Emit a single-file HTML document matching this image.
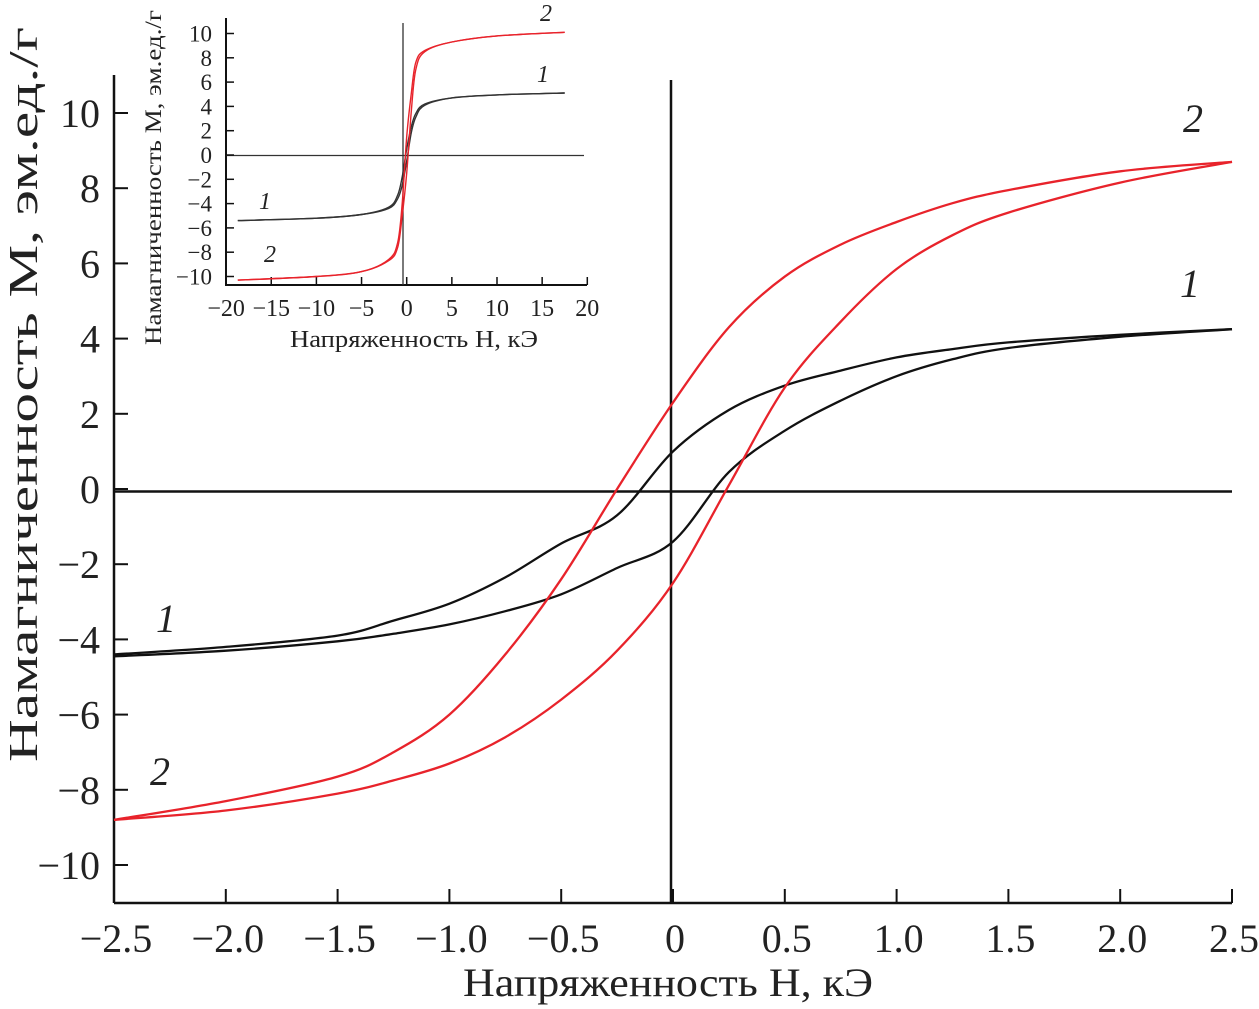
<!DOCTYPE html>
<html><head><meta charset="utf-8"><style>
html,body{margin:0;padding:0;background:#fff;}
svg{display:block;font-family:"Liberation Serif","DejaVu Serif",serif;}
</style></head><body>
<svg id="c" width="1259" height="1009" viewBox="0 0 1259 1009"></svg>
<script>
// Main chart data (H in kOe, M in emu/g)
const mainTicksX = [-2.5,-2.0,-1.5,-1.0,-0.5,0,0.5,1.0,1.5,2.0,2.5];
const mainTickLabelsX = ["\u22122.5","\u22122.0","\u22121.5","\u22121.0","\u22120.5","0","0.5","1.0","1.5","2.0","2.5"];
const mainTicksY = [10,8,6,4,2,0,-2,-4,-6,-8,-10];
const mainTickLabelsY = ["10","8","6","4","2","0","\u22122","\u22124","\u22126","\u22128","\u221210"];
const hMain = [-2.5,-2.0,-1.5,-1.25,-1.0,-0.75,-0.5,-0.25,0,0.25,0.5,0.75,1.0,1.25,1.5,2.0,2.5];
const s2Upper = [-8.8,-8.3,-7.65,-7.0,-6.0,-4.4,-2.4,0.0,2.3,4.3,5.65,6.5,7.1,7.6,7.95,8.45,8.7];
const s2Lower = [-8.8,-8.55,-8.1,-7.75,-7.3,-6.6,-5.6,-4.3,-2.5,0.1,2.7,4.45,5.85,6.75,7.35,8.15,8.7];
const s1Upper = [-4.4,-4.2,-3.9,-3.5,-3.05,-2.35,-1.45,-0.7,1.0,2.1,2.75,3.15,3.5,3.72,3.9,4.1,4.25];
const s1Lower = [-4.45,-4.3,-4.05,-3.85,-3.6,-3.25,-2.8,-2.1,-1.4,0.45,1.55,2.35,3.0,3.45,3.75,4.05,4.25];
// Inset data
const insetTicksX = [-20,-15,-10,-5,0,5,10,15,20];
const insetTickLabelsX = ["\u221220","\u221215","\u221210","\u22125","0","5","10","15","20"];
const insetTicksY = [10,8,6,4,2,0,-2,-4,-6,-8,-10];
const insetTickLabelsY = ["10","8","6","4","2","0","\u22122","\u22124","\u22126","\u22128","\u221210"];
const hInset = [-18.7,-10,-5,-2,-1,-0.5,0,0.5,1,2,5,10,17.5];
const i2Upper = [-10.3,-10.0,-9.6,-8.7,-7.6,-5.0,-1.5,3.5,7.0,8.5,9.3,9.8,10.1];
const i2Lower = [-10.3,-10.0,-9.6,-8.6,-7.2,-4.0,1.5,5.0,7.6,8.6,9.3,9.8,10.1];
const i1Upper = [-5.4,-5.2,-4.9,-4.3,-3.3,-1.8,0.5,2.3,3.4,4.2,4.7,4.95,5.1];
const i1Lower = [-5.4,-5.2,-4.9,-4.4,-3.6,-2.5,-0.5,1.8,3.1,4.1,4.7,4.95,5.1];

const NS="http://www.w3.org/2000/svg";
const svg=document.getElementById('c');
function mk(tag,attrs,parent){const e=document.createElementNS(NS,tag);for(const k in attrs)e.setAttribute(k,attrs[k]);(parent||svg).appendChild(e);return e;}
function smooth(pts){let d="M"+pts[0][0].toFixed(1)+","+pts[0][1].toFixed(1);
 for(let i=0;i<pts.length-1;i++){const p0=pts[Math.max(0,i-1)],p1=pts[i],p2=pts[i+1],p3=pts[Math.min(pts.length-1,i+2)];
 const c1=[p1[0]+(p2[0]-p0[0])/6,p1[1]+(p2[1]-p0[1])/6],c2=[p2[0]-(p3[0]-p1[0])/6,p2[1]-(p3[1]-p1[1])/6];
 d+=" C"+c1[0].toFixed(1)+","+c1[1].toFixed(1)+" "+c2[0].toFixed(1)+","+c2[1].toFixed(1)+" "+p2[0].toFixed(1)+","+p2[1].toFixed(1);}return d;}

// main axes
const mx=v=>114+(v+2.5)*223.6;
const my=v=>489-v*37.6;
let e;
e=mk('line',{x1:114,y1:75,x2:114,y2:903,stroke:'#111','stroke-width':2.5});


e=mk('line',{x1:114,y1:903,x2:1232,y2:903,stroke:'#111','stroke-width':2.5});


e=mk('line',{x1:114,y1:491.5,x2:1232,y2:491.5,stroke:'#111','stroke-width':2.5});


e=mk('line',{x1:671,y1:80,x2:671,y2:903,stroke:'#111','stroke-width':2.5});


mainTicksX.forEach((v,i)=>{
 const t=mk('line',{x1:mx(v),y1:903,x2:mx(v),y2:889,stroke:'#111','stroke-width':2});
 
 
 const l=mk('text',{x:mx(v)+2,y:952,'font-size':40,'text-anchor':'middle',fill:'#222'});l.textContent=mainTickLabelsX[i];
 
 
});
mainTicksY.forEach((v,i)=>{
 const t=mk('line',{x1:114,y1:my(v),x2:128,y2:my(v),stroke:'#111','stroke-width':2});
 
 
 const l=mk('text',{x:100,y:my(v)+14,'font-size':40,'text-anchor':'end',fill:'#222'});l.textContent=mainTickLabelsY[i];
 
 
});
e=mk('text',{x:463,y:996,'font-size':40,fill:'#222',textLength:410,lengthAdjust:'spacingAndGlyphs'});e.textContent="Напряженность H, кЭ";


e=mk('text',{x:0,y:0,'font-size':41,fill:'#222',textLength:735,lengthAdjust:'spacingAndGlyphs',transform:'translate(37,762) rotate(-90)'});e.textContent="Намагниченность M, эм.ед./г";


function series(h,m,xf,yf,color,w,name){const p=mk('path',{d:smooth(h.map((v,i)=>[xf(v),yf(m[i])])),fill:'none',stroke:color,'stroke-width':w});
 
 }
series(hMain,s1Upper,mx,my,'#111',2.3,'series-1-upper-branch');
series(hMain,s1Lower,mx,my,'#111',2.3,'series-1-lower-branch');
series(hMain,s2Upper,mx,my,'#e8232b',2.3,'series-2-upper-branch');
series(hMain,s2Lower,mx,my,'#e8232b',2.3,'series-2-lower-branch');
[[1193,132,'2','curve-label-2-right'],[1190,297,'1','curve-label-1-right'],[166,632,'1','curve-label-1-left'],[160,785,'2','curve-label-2-left']].forEach(a=>{
 const t=mk('text',{x:a[0],y:a[1],'font-size':40,'font-style':'italic','text-anchor':'middle',fill:'#222'});t.textContent=a[2];
 
 
});
// inset
const g=mk('g',{});


mk('rect',{x:140,y:0,width:460,height:350,fill:'#fff'},g);
const ix=v=>406.7+v*9.03;
const iy=v=>155-v*12.15;
mk('line',{x1:226,y1:18,x2:226,y2:286,stroke:'#111','stroke-width':2},g);
mk('line',{x1:226,y1:285,x2:587,y2:285,stroke:'#111','stroke-width':2},g);
mk('line',{x1:226,y1:155.5,x2:584,y2:155.5,stroke:'#333','stroke-width':1.3},g);
mk('line',{x1:403,y1:23,x2:403,y2:285,stroke:'#333','stroke-width':1.3},g);
insetTicksX.forEach((v,i)=>{
 const t=mk('line',{x1:ix(v),y1:285,x2:ix(v),y2:277,stroke:'#111','stroke-width':1.5},g);
 
 
 const l=mk('text',{x:ix(v),y:316,'font-size':24,'text-anchor':'middle',fill:'#222'},g);l.textContent=insetTickLabelsX[i];
 
 
});
insetTicksY.forEach((v,i)=>{
 const t=mk('line',{x1:226,y1:iy(v),x2:234,y2:iy(v),stroke:'#111','stroke-width':1.5},g);
 
 
 const l=mk('text',{x:212,y:iy(v)+8,'font-size':23,'text-anchor':'end',fill:'#222'},g);l.textContent=insetTickLabelsY[i];
 
 
});
e=mk('text',{x:290,y:347,'font-size':24,fill:'#222',textLength:248,lengthAdjust:'spacingAndGlyphs'},g);e.textContent="Напряженность H, кЭ";


e=mk('text',{x:0,y:0,'font-size':23,fill:'#222',textLength:335,lengthAdjust:'spacingAndGlyphs',transform:'translate(161,345) rotate(-90)'},g);e.textContent="Намагниченность M, эм.ед./г";


function iseries(m,color,name){const p=mk('path',{d:smooth(hInset.map((v,i)=>[ix(v),iy(m[i])])),fill:'none',stroke:color,'stroke-width':1.4},g);
 
 }
iseries(i1Upper,'#333','inset-series-1-upper');
iseries(i1Lower,'#333','inset-series-1-lower');
iseries(i2Upper,'#e8232b','inset-series-2-upper');
iseries(i2Lower,'#e8232b','inset-series-2-lower');
[[546,21,'2','inset-label-2-right'],[543,82,'1','inset-label-1-right'],[265,209,'1','inset-label-1-left'],[270,262,'2','inset-label-2-left']].forEach(a=>{
 const t=mk('text',{x:a[0],y:a[1],'font-size':24,'font-style':'italic','text-anchor':'middle',fill:'#222'},g);t.textContent=a[2];
 
 
});
</script>
</body></html>
